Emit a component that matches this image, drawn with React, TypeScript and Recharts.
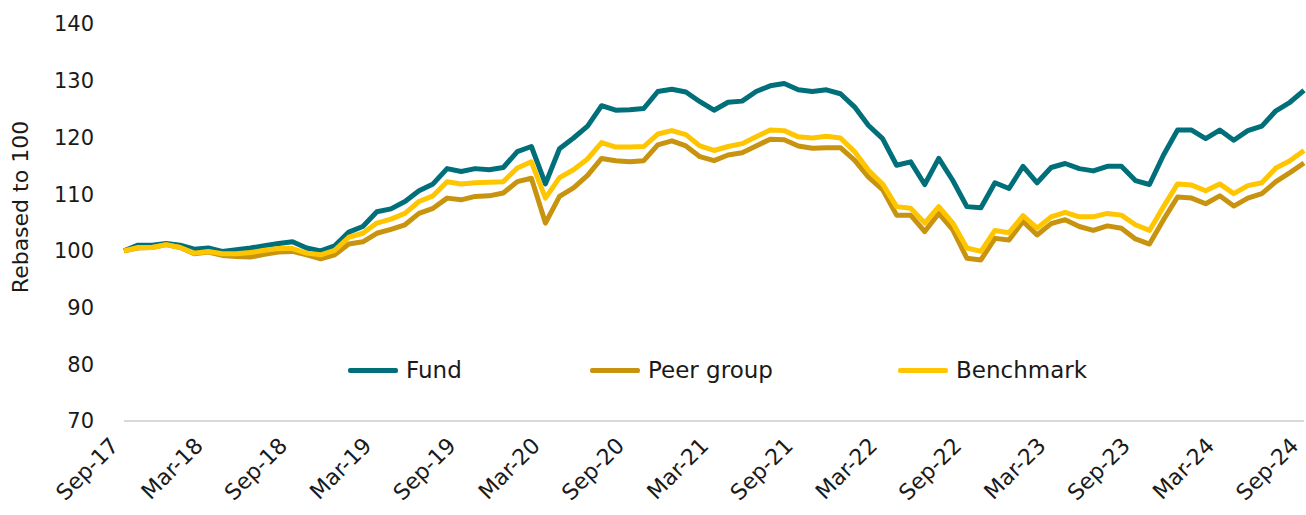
import React from 'react';
import { LineChart, Line, XAxis, YAxis, Legend } from 'recharts';

const FONT = '"DejaVu Sans", sans-serif';
const TEXT = '#1a1a1a';

const COLORS = {
  fund: '#006f7a',
  peer: '#c8940f',
  benchmark: '#ffc600',
};

// monthly, Sep-17 .. Sep-24
const START_YEAR = 2017;
const START_MONTH = 8; // Sep
const MONTH_NAMES = ['Jan', 'Feb', 'Mar', 'Apr', 'May', 'Jun', 'Jul', 'Aug', 'Sep', 'Oct', 'Nov', 'Dec'];

const fund = [
  100.0, 101.0, 101.0, 101.3, 101.0, 100.3, 100.5, 99.9, 100.2, 100.5, 100.9, 101.3,
  101.6, 100.5, 100.0, 100.9, 103.3, 104.3, 106.9, 107.4, 108.7, 110.6, 111.8, 114.5,
  114.0, 114.5, 114.3, 114.7, 117.5, 118.4, 111.8, 118.0, 119.9, 122.0, 125.6, 124.8,
  124.9, 125.1, 128.1, 128.5, 128.0, 126.3, 124.8, 126.2, 126.4, 128.1, 129.1, 129.5,
  128.4, 128.1, 128.4, 127.7, 125.4, 122.1, 119.8, 115.1, 115.7, 111.7, 116.3, 112.4,
  107.8, 107.6, 112.0, 111.0, 114.9, 112.0, 114.7, 115.4, 114.5, 114.1, 114.9, 114.9,
  112.4, 111.7, 116.9, 121.3, 121.3, 119.8, 121.3, 119.5, 121.2, 122.0, 124.7, 126.2,
  128.3,
];

const peerGroup = [
  100.0, 100.5, 100.6, 101.1, 100.6, 99.5, 99.8, 99.2, 99.0, 98.9, 99.4, 99.8,
  99.9, 99.3, 98.6, 99.3, 101.2, 101.6, 103.1, 103.8, 104.6, 106.6, 107.5, 109.3,
  109.0, 109.6, 109.7, 110.2, 112.2, 112.8, 104.9, 109.6, 111.1, 113.3, 116.3, 115.9,
  115.7, 115.9, 118.7, 119.4, 118.5, 116.6, 115.9, 116.9, 117.3, 118.5, 119.7, 119.6,
  118.5, 118.1, 118.2, 118.2, 116.0, 113.0, 110.8, 106.3, 106.3, 103.4, 106.6, 103.7,
  98.7, 98.4, 102.2, 101.9, 105.2, 102.8, 104.8, 105.5, 104.3, 103.6, 104.4, 104.0,
  102.1, 101.2, 105.5, 109.5, 109.3, 108.3, 109.7, 107.9, 109.3, 110.1, 112.2, 113.8,
  115.5,
];

const benchmark = [
  100.0, 100.6, 100.6, 101.1, 100.6, 99.6, 99.9, 99.5, 99.5, 99.7, 100.1, 100.4,
  100.4, 99.6, 99.3, 100.1, 102.4, 103.1, 104.9, 105.6, 106.6, 108.7, 109.7, 112.2,
  111.8, 112.0, 112.1, 112.2, 114.6, 115.7, 109.3, 112.9, 114.3, 116.2, 119.1, 118.3,
  118.3, 118.4, 120.6, 121.2, 120.5, 118.5, 117.7, 118.4, 118.9, 120.1, 121.3, 121.2,
  120.1, 119.9, 120.2, 119.9, 117.5, 114.2, 111.8, 107.8, 107.5, 104.9, 107.8, 104.9,
  100.5, 99.9, 103.6, 103.2, 106.2, 104.0, 106.0, 106.8, 106.0, 106.0, 106.6, 106.3,
  104.6, 103.6, 107.8, 111.8, 111.6, 110.6, 111.8, 110.1, 111.5, 112.0, 114.6, 115.9,
  117.7,
];

const yTicks = [70, 80, 90, 100, 110, 120, 130, 140];

const months = fund.map((_, i) => {
  const m = START_MONTH + i;
  const yr = START_YEAR + Math.floor(m / 12);
  return `${MONTH_NAMES[m % 12]}-${String(yr).slice(2)}`;
});

const data = months.map((month, i) => ({
  month,
  fund: fund[i],
  peer: peerGroup[i],
  benchmark: benchmark[i],
}));

const legendItems = [
  { key: 'fund', label: 'Fund', width: 242 },
  { key: 'peer', label: 'Peer group', width: 308 },
  { key: 'benchmark', label: 'Benchmark', width: 200 },
];

const MonthTick = (props: any) => {
  const { x, y, payload } = props;
  return (
    <g transform={`translate(${x - 4},${y + 18})`}>
      <text transform="rotate(-45)" textAnchor="end" fill={TEXT} fontSize={22} fontFamily={FONT}>
        {payload.value}
      </text>
    </g>
  );
};

const renderLegend = () => (
  <div style={{ display: 'flex', alignItems: 'center', fontFamily: FONT, fontSize: 23, color: TEXT }}>
    {legendItems.map(item => (
      <div key={item.key} style={{ display: 'flex', alignItems: 'center', width: item.width }}>
        <span style={{ width: 50, height: 5, background: (COLORS as any)[item.key], marginRight: 8, borderRadius: 2 }} />
        <span>{item.label}</span>
      </div>
    ))}
  </div>
);

export default function App() {
  return (
    <div style={{ position: 'absolute', top: 0, left: 0, width: 1306, height: 515, background: '#fff' }}>
      <LineChart
        width={1306}
        height={515}
        data={data}
        margin={{ top: 24, right: 2, bottom: 0, left: 0 }}
        style={{ fontFamily: FONT }}
      >
        <XAxis
          dataKey="month"
          interval={5}
          height={94}
          tickLine={false}
          axisLine={{ stroke: '#d9d9d9', strokeWidth: 2 }}
          tick={<MonthTick />}
        />
        <YAxis
          domain={[70, 140]}
          ticks={yTicks}
          width={124}
          axisLine={false}
          tickLine={false}
          tickMargin={24}
          tick={{ fill: TEXT, fontSize: 21, fontFamily: FONT }}
          label={{
            content: () => (
              <text transform="translate(28,207) rotate(-90)" textAnchor="middle" fill={TEXT} fontSize={22} fontFamily={FONT}>
                Rebased to 100
              </text>
            ),
          }}
        />
        <Legend
          verticalAlign="middle"
          align="center"
          content={renderLegend}
          wrapperStyle={{ top: 357, left: 348, width: 760 }}
        />
        <Line type="linear" dataKey="fund" name="Fund" stroke={COLORS.fund} strokeWidth={5} dot={false} strokeLinejoin="round" isAnimationActive={false} />
        <Line type="linear" dataKey="peer" name="Peer group" stroke={COLORS.peer} strokeWidth={5} dot={false} strokeLinejoin="round" isAnimationActive={false} />
        <Line type="linear" dataKey="benchmark" name="Benchmark" stroke={COLORS.benchmark} strokeWidth={5} dot={false} strokeLinejoin="round" isAnimationActive={false} />
      </LineChart>
    </div>
  );
}
